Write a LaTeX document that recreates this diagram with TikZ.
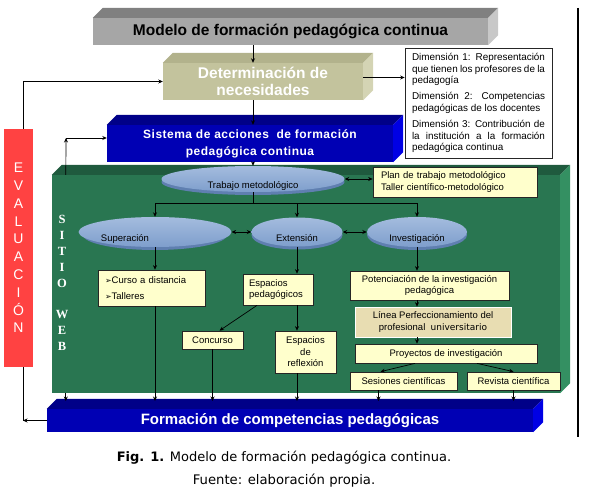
\documentclass[tikz,border=0pt]{standalone}
\usepackage{fontspec}
\setmainfont{Liberation Sans}
\newfontfamily\verdana{DejaVu Sans}
\newfontfamily\webfont{Liberation Serif}
\usetikzlibrary{arrows.meta,shapes.geometric}
\definecolor{mfront}{HTML}{A6A6A6}
\definecolor{mtop}{HTML}{808080}
\definecolor{mside}{HTML}{C8C8C8}
\definecolor{dfront}{HTML}{C3C39D}
\definecolor{dtop}{HTML}{B2B28C}
\definecolor{dside}{HTML}{D4D4B4}
\definecolor{bfront}{HTML}{0000B4}
\definecolor{btop}{HTML}{000088}
\definecolor{bside}{HTML}{0000E4}
\definecolor{gfront}{HTML}{297651}
\definecolor{gtop}{HTML}{1F5A3E}
\definecolor{gside}{HTML}{349062}
\definecolor{evalred}{HTML}{FF4242}
\definecolor{notefill}{HTML}{FFFFCC}
\definecolor{lineafill}{HTML}{E8DDB2}
\definecolor{disctop}{HTML}{A4BCDE}
\definecolor{discfill}{HTML}{7E9ECC}
\definecolor{discedge}{HTML}{5F7FB0}
\newcommand\bul{{\verdana\fontsize{8}{10}\selectfont ➢}}
\newcommand\dtxt[1]{\raisebox{-9pt}[0pt][0pt]{#1}}

\begin{document}
\begin{tikzpicture}[x=1pt,y=-1pt,
  every node/.style={font=\fontsize{9.5}{11.5}\selectfont,align=center,inner sep=2pt},
  arrow/.style={-{Stealth[length=4.5pt,width=4pt]},line width=0.7pt},
  twoway/.style={{Stealth[length=4.5pt,width=4pt]}-{Stealth[length=4.5pt,width=4pt]},line width=0.7pt},
  block/.style={rectangle,inner sep=0pt},
  note/.style={rectangle,draw=black!85,line width=0.7pt,fill=notefill,inner sep=3pt},
  disc/.style={ellipse,inner sep=0pt,top color=disctop,bottom color=discfill}
]
\useasboundingbox (0,0) rectangle (596,495);

\node[block,fill=gfront,minimum width=508pt,minimum height=218pt] (green) at (306,284) {};
\node[block,fill=mfront,minimum width=395pt,minimum height=27pt,
      font=\fontsize{15.5}{18}\selectfont\bfseries] (mod) at (290.5,31.5)
      {Modelo de formación pedagógica continua};
\node[block,fill=dfront,minimum width=200pt,minimum height=37pt,text=white,
      font=\fontsize{15.5}{17}\selectfont\bfseries] (det) at (263,81.5)
      {Determinación de\\necesidades};
\node[block,fill=bfront,minimum width=286pt,minimum height=37pt,text=white,
      font=\fontsize{12}{17}\selectfont\bfseries\addfontfeature{LetterSpace=4}] (sist) at (250,143.5)
      {Sistema de acciones \ de formación\\pedagógica continua};
\node[block,fill=bfront,minimum width=486pt,minimum height=23pt,text=white,
      font=\fontsize{15}{17}\selectfont\bfseries] (form) at (290,420.5)
      {Formación de competencias pedagógicas};
\node[block,fill=evalred,minimum width=29pt,minimum height=238pt,text=white,
      font=\fontsize{14}{17.8}\selectfont] (eval) at (18.5,248)
      {E\\V\\A\\L\\U\\A\\C\\I\\Ó\\N};

\foreach \n/\t/\s in {green/gtop/gside,mod/mtop/mside,det/dtop/dside,sist/btop/bside,form/btop/bside} {
  \fill[\t] (\n.north west) -- ++(10,-10) -- ([shift={(10,-10)}]\n.north east) -- (\n.north east) -- cycle;
  \fill[\s] (\n.north east) -- ++(10,-10) -- ([shift={(10,-10)}]\n.south east) -- (\n.south east) -- cycle;
}

\node[note,fill=white,text width=133pt,align=justify,inner xsep=7pt,inner ysep=4pt,
      minimum height=110pt,font=\fontsize{9.9}{11.8}\selectfont] (dim) at (478.5,103)
      {Dimensión 1: Representación que tienen los profesores de la pedagogía\\[4pt]
       Dimensión 2: Competencias pedagógicas de los docentes\\[4pt]
       Dimensión 3: Contribución de la institución a la formación pedagógica continua};

\node[text=white,font=\webfont\bfseries\fontsize{12.5}{16}\selectfont] (web) at (62,283)
      {S\\I\\T\\I\\O\\[15pt]W\\E\\B};

\foreach \x/\y/\rx/\ry in {253/182/91.5/13, 155/235/72/15, 297/235/45.5/14.5, 417/235/50/15} {
  \fill[discedge] (\x,\y) ellipse [x radius=\rx pt, y radius=\ry pt];
}
\node[disc,minimum width=183pt,minimum height=26pt] (trab) at (253,179)
      {\dtxt{Trabajo metodológico}};
\node[disc,minimum width=144pt,minimum height=30pt] (sup) at (155,232)
      {\dtxt{Superación\hspace{60pt}}};
\node[disc,minimum width=91pt,minimum height=29pt] (ext) at (297,232) {\dtxt{Extensión}};
\node[disc,minimum width=100pt,minimum height=30pt] (inv) at (417,232) {\dtxt{Investigación}};

\node[note,text width=148pt,align=left,inner xsep=8pt,minimum height=30pt] (plan) at (455,182)
      {Plan de trabajo metodológico\\Taller científico-metodológico};
\node[note,text width=93pt,align=left,inner xsep=7pt,minimum height=36pt] (curso) at (151.5,288)
      {\bul Curso a distancia\\[5pt]\bul Talleres};
\node[note,text width=58pt,align=left,inner xsep=6pt,minimum height=31pt] (esp) at (278,289.5)
      {Espacios\\pedagógicos};
\node[note,minimum width=61pt,minimum height=18pt] (conc) at (212.5,340) {Concurso};
\node[note,minimum width=61pt,minimum height=42pt] (refl) at (305.5,352) {Espacios\\de\\reflexión};
\node[note,minimum width=159pt,minimum height=29pt] (pot) at (429.5,285.5)
      {Potenciación de la investigación\\pedagógica};
\node[note,draw=white,fill=lineafill,minimum width=156pt,minimum height=30pt] (linea) at (433,322)
      {Línea Perfeccionamiento del\\profesional \ {\verdana\fontsize{9}{11}\selectfont universitario}};
\node[note,minimum width=182pt,minimum height=19pt] (proy) at (446,353.5) {Proyectos de investigación};
\node[note,minimum width=107pt,minimum height=18pt] (ses) at (403.5,381) {Sesiones científicas};
\node[note,minimum width=93pt,minimum height=18pt] (rev) at (513.5,381) {Revista científica};

\node[font=\verdana\fontsize{13}{15}\selectfont] (cap) at (284,458)
      {\textbf{Fig. 1.} Modelo de formación pedagógica continua.};
\node[font=\verdana\fontsize{13.2}{15}\selectfont] (src) at (284,481)
      {Fuente: elaboración propia.};

\draw[line width=2pt] (578,8) -- (578,437);

\coordinate (fork) at ([yshift=-11pt]trab.south);
\coordinate (ftop) at (0,401);
\coordinate (webup) at (66,138);
\coordinate (evbot) at ([xshift=4.5pt]eval.south |- form.west);

\draw[arrow] (mod.south -| trab) -- (det.north -| trab);
\draw[arrow] (det.south -| trab) -- (sist.north -| trab);
\draw[arrow] (sist.south -| trab) -- (trab.north);
\draw[arrow] ([yshift=4pt]det.east) -- ([yshift=4pt]det.east -| dim.west);
\draw[twoway] (trab.east) -- (trab.east -| plan.west);
\draw (trab.south) -- (fork);
\draw (sup.north |- fork) -- (inv.north |- fork);
\foreach \n in {sup,ext,inv} { \draw[arrow] (\n.north |- fork) -- (\n.north); }
\draw[twoway] (sup.east) -- (ext.west);
\draw[twoway] (ext.east) -- (inv.west);

\draw[arrow] (sup.south) -- (sup.south |- curso.north);
\draw[arrow] (ext.south) -- (ext.south |- esp.north);
\draw[arrow] ([xshift=-21pt]esp.south) -- ([xshift=7pt]conc.north);
\draw[arrow] (ext.south |- esp.south) -- (ext.south |- refl.north);
\draw[arrow] (inv.south) -- (inv.south |- pot.north);
\draw[arrow] (inv.south |- pot.south) -- (inv.south |- linea.north);
\draw[arrow] (inv.south |- linea.south) -- (inv.south |- proy.north);
\draw[arrow] ([xshift=-31pt]proy.south) -- ([xshift=-23pt]ses.north);
\draw[arrow] ([xshift=31pt]proy.south) -- (rev.north);

\draw[arrow] (sup.south |- curso.south) -- (sup.south |- ftop);
\draw[arrow] (conc.south) -- (conc.south |- ftop);
\draw[arrow] (ext.south |- refl.south) -- (ext.south |- ftop);
\draw[arrow] ([xshift=-25pt]ses.south) -- ([xshift=-25pt]ses.south |- ftop);
\draw[arrow] (rev.south) -- (rev.south |- ftop);
\draw[arrow] ([xshift=14pt]green.south west) -- ([xshift=14pt]green.south west |- ftop);

\draw[arrow] ([xshift=14pt]green.north west) -- (webup);
\draw[arrow] (webup) -- (webup -| sist.west);
\draw[arrow] ([xshift=4.5pt]eval.north) |- (det.west);
\draw[arrow] (form.west) -- (evbot);
\draw (evbot) -- ([xshift=4.5pt]eval.south);

\end{tikzpicture}
\end{document}
